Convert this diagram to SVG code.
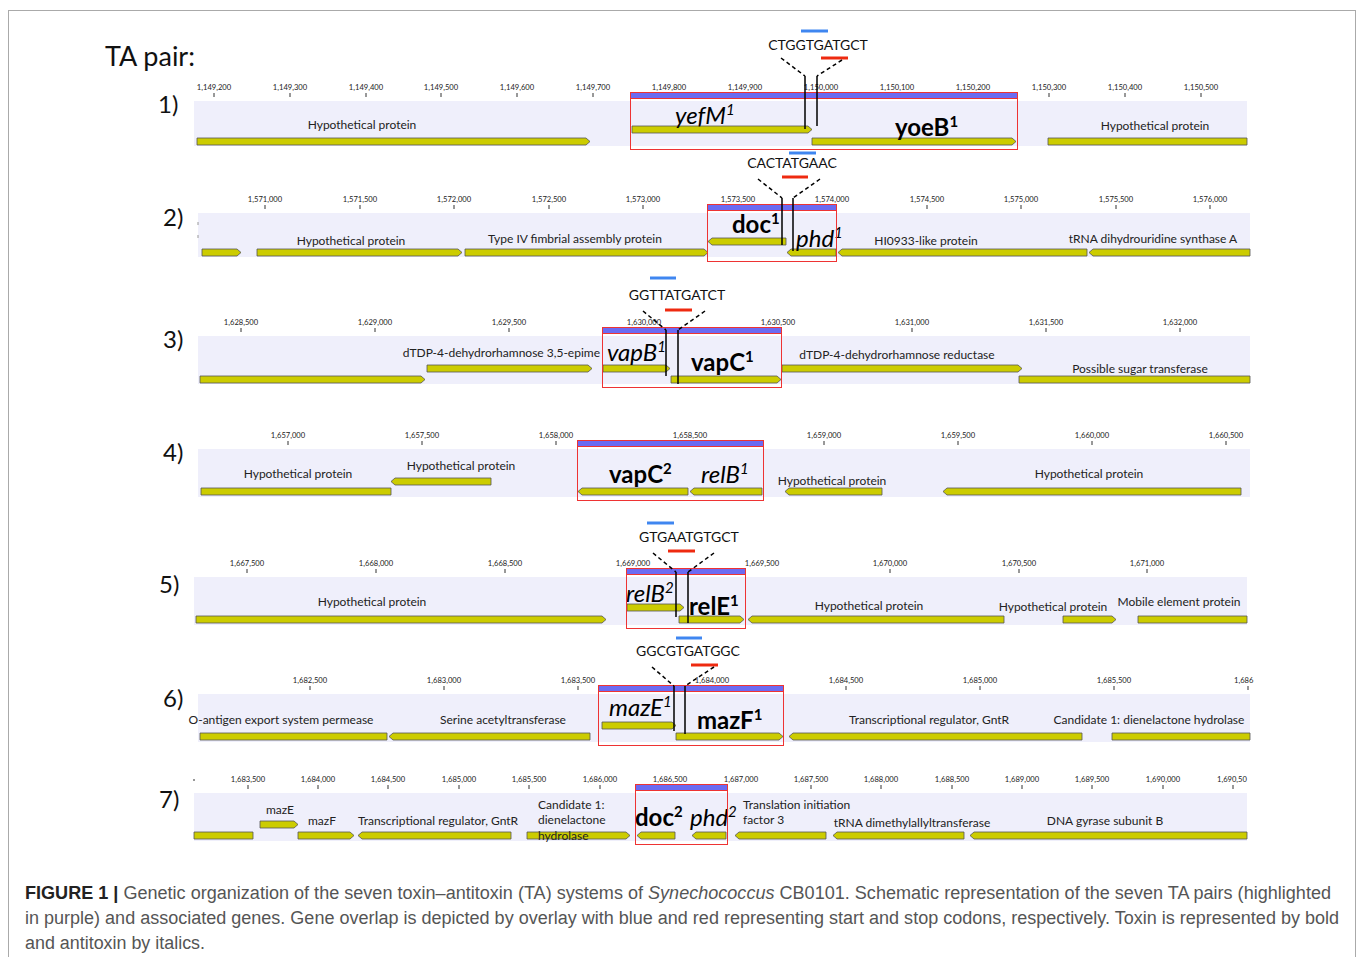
<svg xmlns="http://www.w3.org/2000/svg" width="1357" height="957" viewBox="0 0 1357 957">
<style>
.band{fill:#efeffb}
.g{fill:#cccc00;stroke:#555;stroke-width:0.8}
.box{fill:none;stroke:#ee3333;stroke-width:1}
.pur{fill:#6b6bf2;stroke:#ee3333;stroke-width:1}
.tl{font-family:Lato,sans-serif;font-size:7.6px;fill:#222;text-anchor:middle}
.tk{stroke:#333;stroke-width:1}
.lb{font-family:Lato,sans-serif;font-size:12px;fill:#222;text-anchor:middle}
.ls{font-family:Lato,sans-serif;font-size:12px;fill:#222}
.seq{font-family:Lato,sans-serif;font-size:14px;fill:#111;text-anchor:middle}
.big{font-family:Lato,sans-serif;font-size:24px;fill:#000}
.b{font-weight:bold}
.i{font-style:italic}
.num{font-family:Lato,sans-serif;font-size:24px;fill:#111}
.bl{stroke:#3f86f0;stroke-width:3}
.rd{stroke:#ee2a10;stroke-width:3}
.dash{stroke:#000;stroke-width:1.5;stroke-dasharray:4 3;fill:none}
.vl{stroke:#000;stroke-width:1.5}
.cap{font-family:"Liberation Sans",Arial,sans-serif;font-size:18px;fill:#555}
</style>
<rect x="0" y="0" width="1357" height="957" fill="#fff"/>
<rect x="8.5" y="10.5" width="1347" height="965" fill="none" stroke="#aaa" stroke-width="1"/>
<text x="105" y="66" class="num" style="font-size:27px">TA pair:</text>

<g id="pair1">
<text x="158" y="113" class="num">1)</text>
<rect class="band" x="194" y="101" width="1053" height="45"/>
<g class="tl">
<text x="214" y="90">1,149,200</text><text x="290" y="90">1,149,300</text><text x="366" y="90">1,149,400</text><text x="441" y="90">1,149,500</text><text x="517" y="90">1,149,600</text><text x="593" y="90">1,149,700</text><text x="669" y="90">1,149,800</text><text x="745" y="90">1,149,900</text><text x="821" y="90">1,150,000</text><text x="897" y="90">1,150,100</text><text x="973" y="90">1,150,200</text><text x="1049" y="90">1,150,300</text><text x="1125" y="90">1,150,400</text><text x="1201" y="90">1,150,500</text>
</g>
<path class="tk" d="M214 93v4M290 93v4M366 93v4M441 93v4M517 93v4M593 93v4M1049 93v4M1125 93v4M1201 93v4"/>
<polygon class="g" points="197,138 586,138 590,141.5 586,145 197,145"/>
<polygon class="g" points="632,126 808,126 812,129.5 808,133 632,133"/>
<polygon class="g" points="812,138 1012,138 1016,141.5 1012,145 812,145"/>
<polygon class="g" points="1048,138 1247,138 1247,145 1048,145"/>
<text x="362" y="129" class="lb">Hypothetical protein</text>
<text x="1155" y="130" class="lb">Hypothetical protein</text>
<text x="675" y="124" class="big i">yefM<tspan dy="-9" font-size="15">1</tspan></text>
<text x="895" y="136" class="big b">yoeB<tspan dy="-9" font-size="15">1</tspan></text>
<rect class="box" x="630.5" y="92.5" width="387" height="57"/>
<rect class="pur" x="630.5" y="92.5" width="387" height="6"/>
<text x="818" y="50" class="seq">CTGGTGATGCT</text>
<line class="bl" x1="801" y1="31" x2="828" y2="31"/>
<line class="rd" x1="821" y1="58" x2="848" y2="58"/>
</g>

<g id="pair2">
<text x="163" y="226" class="num">2)</text>
<rect class="band" x="198" y="213" width="1052" height="44"/>
<g class="tl">
<text x="265" y="202">1,571,000</text><text x="360" y="202">1,571,500</text><text x="454" y="202">1,572,000</text><text x="549" y="202">1,572,500</text><text x="643" y="202">1,573,000</text><text x="738" y="202">1,573,500</text><text x="832" y="202">1,574,000</text><text x="927" y="202">1,574,500</text><text x="1021" y="202">1,575,000</text><text x="1116" y="202">1,575,500</text><text x="1210" y="202">1,576,000</text>
</g>
<path class="tk" d="M265 205v4M360 205v4M454 205v4M549 205v4M643 205v4M927 205v4M1021 205v4M1116 205v4M1210 205v4"/>
<path stroke="#999" stroke-width="1" d="M198 222v3M198 235v3"/>
<polygon class="g" points="202,249 237,249 241,252.5 237,256 202,256"/>
<polygon class="g" points="257,249 458,249 462,252.5 458,256 257,256"/>
<polygon class="g" points="465,249 704,249 708,252.5 704,256 465,256"/>
<polygon class="g" points="708,241.5 712,238 786,238 786,245 712,245"/>
<polygon class="g" points="787,252.5 791,249 836,249 836,256 791,256"/>
<polygon class="g" points="838,252.5 842,249 1087,249 1087,256 842,256"/>
<polygon class="g" points="1089,252.5 1093,249 1250,249 1250,256 1093,256"/>
<text x="351" y="245" class="lb">Hypothetical protein</text>
<text x="575" y="243" class="lb">Type IV fimbrial assembly protein</text>
<text x="926" y="245" class="lb">HI0933-like protein</text>
<text x="1153" y="243" class="lb">tRNA dihydrouridine synthase A</text>
<text x="732" y="233" class="big b">doc<tspan dy="-9" font-size="15">1</tspan></text>
<text x="796" y="247" class="big i">phd<tspan dy="-9" font-size="15">1</tspan></text>
<rect class="box" x="707.5" y="204.5" width="129" height="57"/>
<rect class="pur" x="707.5" y="204.5" width="129" height="6"/>
<text x="792" y="168" class="seq">CACTATGAAC</text>
<line class="bl" x1="789" y1="153" x2="816" y2="153"/>
<line class="rd" x1="782" y1="177" x2="808" y2="177"/>
</g>

<g id="pair3">
<text x="163" y="348" class="num">3)</text>
<rect class="band" x="198" y="336" width="1052" height="48"/>
<g class="tl">
<text x="241" y="325">1,628,500</text><text x="375" y="325">1,629,000</text><text x="509" y="325">1,629,500</text><text x="644" y="325">1,630,000</text><text x="778" y="325">1,630,500</text><text x="912" y="325">1,631,000</text><text x="1046" y="325">1,631,500</text><text x="1180" y="325">1,632,000</text>
</g>
<path class="tk" d="M241 328v4M375 328v4M509 328v4M912 328v4M1046 328v4M1180 328v4"/>
<polygon class="g" points="200,376 421,376 425,379.5 421,383 200,383"/>
<polygon class="g" points="427,365 588,365 592,368.5 588,372 427,372"/>
<polygon class="g" points="603,365 666,365 670,368.5 666,372 603,372"/>
<polygon class="g" points="671,376 777,376 781,379.5 777,383 671,383"/>
<polygon class="g" points="782,365 1018,365 1022,368.5 1018,372 782,372"/>
<polygon class="g" points="1019,376 1250,376 1250,383 1019,383"/>
<text x="600" y="357" class="lb" style="text-anchor:end">dTDP-4-dehydrorhamnose 3,5-epime</text>
<text x="897" y="359" class="lb">dTDP-4-dehydrorhamnose reductase</text>
<text x="1140" y="373" class="lb">Possible sugar transferase</text>
<text x="607" y="361" class="big i">vapB<tspan dy="-9" font-size="15">1</tspan></text>
<text x="691" y="371" class="big b">vapC<tspan dy="-9" font-size="15">1</tspan></text>
<rect class="box" x="602.5" y="327.5" width="179" height="60"/>
<rect class="pur" x="602.5" y="327.5" width="179" height="6"/>
<text x="677" y="300" class="seq">GGTTATGATCT</text>
<line class="bl" x1="650" y1="278" x2="676" y2="278"/>
<line class="rd" x1="665" y1="310" x2="692" y2="310"/>
</g>

<g id="pair4">
<text x="163" y="461" class="num">4)</text>
<rect class="band" x="198" y="449" width="1052" height="48"/>
<g class="tl">
<text x="288" y="438">1,657,000</text><text x="422" y="438">1,657,500</text><text x="556" y="438">1,658,000</text><text x="690" y="438">1,658,500</text><text x="824" y="438">1,659,000</text><text x="958" y="438">1,659,500</text><text x="1092" y="438">1,660,000</text><text x="1226" y="438">1,660,500</text>
</g>
<path class="tk" d="M288 441v4M422 441v4M556 441v4M824 441v4M958 441v4M1092 441v4M1226 441v4"/>
<polygon class="g" points="201,488 391,488 391,495 201,495"/>
<polygon class="g" points="391,481.5 395,478 491,478 491,485 395,485"/>
<polygon class="g" points="578,491.5 582,488 688,488 688,495 582,495"/>
<polygon class="g" points="690,491.5 694,488 762,488 762,495 694,495"/>
<polygon class="g" points="785,491.5 789,488 882,488 882,495 789,495"/>
<polygon class="g" points="943,491.5 947,488 1241,488 1241,495 947,495"/>
<text x="298" y="478" class="lb">Hypothetical protein</text>
<text x="461" y="470" class="lb">Hypothetical protein</text>
<text x="832" y="485" class="lb">Hypothetical protein</text>
<text x="1089" y="478" class="lb">Hypothetical protein</text>
<text x="609" y="483" class="big b">vapC<tspan dy="-9" font-size="15">2</tspan></text>
<text x="701" y="483" class="big i">relB<tspan dy="-9" font-size="15">1</tspan></text>
<rect class="box" x="577.5" y="440.5" width="186" height="60"/>
<rect class="pur" x="577.5" y="440.5" width="186" height="6"/>
</g>

<g id="pair5">
<text x="159" y="593" class="num">5)</text>
<rect class="band" x="194" y="577" width="1053" height="48"/>
<g class="tl">
<text x="247" y="566">1,667,500</text><text x="376" y="566">1,668,000</text><text x="505" y="566">1,668,500</text><text x="633" y="566">1,669,000</text><text x="762" y="566">1,669,500</text><text x="890" y="566">1,670,000</text><text x="1019" y="566">1,670,500</text><text x="1147" y="566">1,671,000</text>
</g>
<path class="tk" d="M247 569v4M376 569v4M505 569v4M890 569v4M1019 569v4M1147 569v4"/>
<polygon class="g" points="196,616 602,616 606,619.5 602,623 196,623"/>
<polygon class="g" points="627,604 680,604 684,607.5 680,611 627,611"/>
<polygon class="g" points="679,616 740,616 744,619.5 740,623 679,623"/>
<polygon class="g" points="748,619.5 752,616 1004,616 1004,623 752,623"/>
<polygon class="g" points="1063,616 1112,616 1116,619.5 1112,623 1063,623"/>
<polygon class="g" points="1138,616 1247,616 1247,623 1138,623"/>
<text x="372" y="606" class="lb">Hypothetical protein</text>
<text x="869" y="610" class="lb">Hypothetical protein</text>
<text x="1053" y="611" class="lb">Hypothetical protein</text>
<text x="1179" y="606" class="lb">Mobile element protein</text>
<text x="626" y="602" class="big i">relB<tspan dy="-9" font-size="15">2</tspan></text>
<text x="689" y="615" class="big b">relE<tspan dy="-9" font-size="15">1</tspan></text>
<rect class="box" x="626.5" y="568.5" width="119" height="60"/>
<rect class="pur" x="626.5" y="568.5" width="119" height="6"/>
<text x="689" y="542" class="seq">GTGAATGTGCT</text>
<line class="bl" x1="647" y1="523" x2="674" y2="523"/>
<line class="rd" x1="668" y1="551" x2="695" y2="551"/>
</g>

<g id="pair6">
<text x="163" y="707" class="num">6)</text>
<rect class="band" x="198" y="694" width="1052" height="48"/>
<g class="tl">
<text x="310" y="683">1,682,500</text><text x="444" y="683">1,683,000</text><text x="578" y="683">1,683,500</text><text x="712" y="683">1,684,000</text><text x="846" y="683">1,684,500</text><text x="980" y="683">1,685,000</text><text x="1114" y="683">1,685,500</text><text x="1234" y="683" style="text-anchor:start">1,686</text>
</g>
<path class="tk" d="M310 686v4M444 686v4M578 686v4M846 686v4M980 686v4M1114 686v4M1248 686v4"/>
<polygon class="g" points="200,733 387,733 387,740 200,740"/>
<polygon class="g" points="389,736.5 393,733 590,733 590,740 393,740"/>
<polygon class="g" points="602,722 672,722 676,725.5 672,729 602,729"/>
<polygon class="g" points="676,733 779,733 783,736.5 779,740 676,740"/>
<polygon class="g" points="789,736.5 793,733 1082,733 1082,740 793,740"/>
<polygon class="g" points="1112,733 1250,733 1250,740 1112,740"/>
<text x="281" y="724" class="lb">O-antigen export system permease</text>
<text x="503" y="724" class="lb">Serine acetyltransferase</text>
<text x="929" y="724" class="lb">Transcriptional regulator, GntR</text>
<text x="1149" y="724" class="lb">Candidate 1: dienelactone hydrolase</text>
<text x="609" y="716" class="big i">mazE<tspan dy="-9" font-size="15">1</tspan></text>
<text x="697" y="729" class="big b">mazF<tspan dy="-9" font-size="15">1</tspan></text>
<rect class="box" x="598.5" y="685.5" width="185" height="60"/>
<rect class="pur" x="598.5" y="685.5" width="185" height="6"/>
<text x="688" y="656" class="seq">GGCGTGATGGC</text>
<line class="bl" x1="676" y1="638" x2="702" y2="638"/>
<line class="rd" x1="691" y1="665" x2="718" y2="665"/>
</g>

<g id="pair7">
<text x="159" y="808" class="num">7)</text>
<rect class="band" x="194" y="793" width="1053" height="48"/>
<g class="tl">
<text x="248" y="782">1,683,500</text><text x="318" y="782">1,684,000</text><text x="388" y="782">1,684,500</text><text x="459" y="782">1,685,000</text><text x="529" y="782">1,685,500</text><text x="600" y="782">1,686,000</text><text x="670" y="782">1,686,500</text><text x="741" y="782">1,687,000</text><text x="811" y="782">1,687,500</text><text x="881" y="782">1,688,000</text><text x="952" y="782">1,688,500</text><text x="1022" y="782">1,689,000</text><text x="1092" y="782">1,689,500</text><text x="1163" y="782">1,690,000</text><text x="1217" y="782" style="text-anchor:start">1,690,50</text>
</g>
<path class="tk" d="M194 779v2M248 785v4M318 785v4M388 785v4M459 785v4M529 785v4M600 785v4M811 785v4M881 785v4M952 785v4M1022 785v4M1092 785v4M1163 785v4M1233 785v4"/>
<polygon class="g" points="194,832 253,832 253,839 194,839"/>
<polygon class="g" points="260,821 294,821 298,824.5 294,828 260,828"/>
<polygon class="g" points="298,832 350,832 354,835.5 350,839 298,839"/>
<polygon class="g" points="358,835.5 362,832 511,832 511,839 362,839"/>
<polygon class="g" points="527,832 626,832 630,835.5 626,839 527,839"/>
<polygon class="g" points="637,835.5 641,832 675,832 675,839 641,839"/>
<polygon class="g" points="692,835.5 696,832 726,832 726,839 696,839"/>
<polygon class="g" points="735,835.5 739,832 826,832 826,839 739,839"/>
<polygon class="g" points="833,835.5 837,832 964,832 964,839 837,839"/>
<polygon class="g" points="970,835.5 974,832 1247,832 1247,839 974,839"/>
<text x="280" y="814" class="lb">mazE</text>
<text x="308" y="825" class="ls">mazF</text>
<text x="438" y="825" class="lb">Transcriptional regulator, GntR</text>
<text x="538" y="809" class="ls">Candidate 1:</text>
<text x="538" y="824" class="ls">dienelactone</text>
<text x="538" y="840" class="ls">hydrolase</text>
<text x="743" y="809" class="ls">Translation initiation</text>
<text x="743" y="824" class="ls">factor 3</text>
<text x="912" y="827" class="lb">tRNA dimethylallyltransferase</text>
<text x="1105" y="825" class="lb">DNA gyrase subunit B</text>
<text x="635" y="826" class="big b">doc<tspan dy="-9" font-size="15">2</tspan></text>
<text x="690" y="826" class="big i">phd<tspan dy="-9" font-size="15">2</tspan></text>
<rect class="box" x="635.5" y="784.5" width="92" height="60"/>
<rect class="pur" x="635.5" y="784.5" width="92" height="6"/>
</g>

<g id="connectors">
<path class="dash" d="M781 58L805 76M842 60L817 76"/>
<path class="vl" d="M805 76V129M817 76V126"/>
<path class="dash" d="M758 179L782 198M820 179L793 198"/>
<path class="vl" d="M782 198V245M793 198V251"/>
<path class="dash" d="M643 311L666 330M705 311L678 330"/>
<path class="vl" d="M666 330V376M678 330V384"/>
<path class="dash" d="M653 553L676 572M714 553L688 572"/>
<path class="vl" d="M676 572V617M688 572V623"/>
<path class="dash" d="M652 667L674 686M714 667L685 686"/>
<path class="vl" d="M674 686V731M685 686V734"/>
</g>

<g id="caption">
<text x="25" y="899" class="cap" textLength="1306" lengthAdjust="spacingAndGlyphs"><tspan font-weight="bold" fill="#222">FIGURE 1 |</tspan> Genetic organization of the seven toxin–antitoxin (TA) systems of <tspan font-style="italic">Synechococcus</tspan> CB0101. Schematic representation of the seven TA pairs (highlighted</text>
<text x="25" y="924" class="cap" textLength="1314" lengthAdjust="spacingAndGlyphs">in purple) and associated genes. Gene overlap is depicted by overlay with blue and red representing start and stop codons, respectively. Toxin is represented by bold</text>
<text x="25" y="949" class="cap" textLength="180" lengthAdjust="spacingAndGlyphs">and antitoxin by italics.</text>
</g>
</svg>
